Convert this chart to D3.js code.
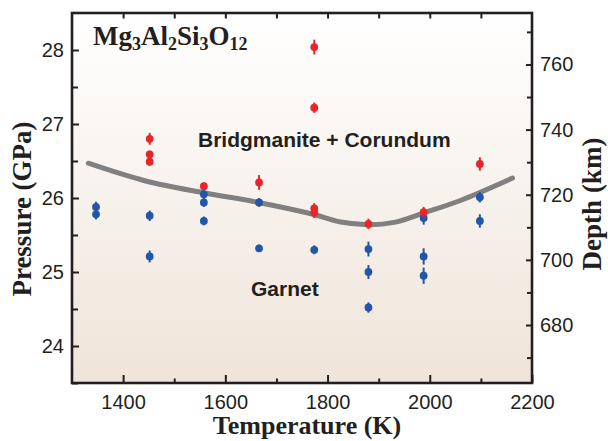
<!DOCTYPE html>
<html>
<head>
<meta charset="utf-8">
<script src="https://cdn.jsdelivr.net/npm/d3@7"></script>
<style>
  html, body { margin: 0; padding: 0; background: #ffffff; }
  svg { display: block; }
</style>
</head>
<body>
<svg id="chart" width="608" height="441"></svg>
<script>
// ---------------- DATA ----------------
// Garnet (blue) observations
const garnetT   = [1347, 1347, 1452, 1452, 1558, 1558, 1558, 1666, 1666, 1774, 1880, 1880, 1880, 1988, 1988, 1988, 2098, 2098];
const garnetP   = [25.88, 25.78, 25.76, 25.21, 26.05, 25.94, 25.69, 25.94, 25.32, 25.30, 25.31, 25.00, 24.52, 25.73, 25.21, 24.95, 26.01, 25.69];
const garnetErr = [0.07, 0.07, 0.07, 0.08, 0.06, 0.06, 0.06, 0.06, 0.05, 0.06, 0.10, 0.095, 0.07, 0.09, 0.11, 0.11, 0.07, 0.09];

// Bridgmanite + Corundum (red) observations
const bmT   = [1452, 1452, 1452, 1558, 1666, 1774, 1774, 1774, 1774, 1880, 1988, 2098];
const bmP   = [26.80, 26.59, 26.49, 26.16, 26.21, 28.04, 27.22, 25.86, 25.80, 25.65, 25.81, 26.46];
const bmErr = [0.08, 0.05, 0.05, 0.05, 0.10, 0.10, 0.07, 0.07, 0.07, 0.07, 0.07, 0.09];

// Phase boundary (grey curve)
const boundaryT = [1332, 1444, 1558, 1665, 1772, 1823, 1880, 1930, 1989, 2061, 2162];
const boundaryP = [26.47, 26.23, 26.07, 25.94, 25.78, 25.68, 25.64, 25.67, 25.80, 25.97, 26.27];

// Axis ticks
const tempTicks      = [1400, 1600, 1800, 2000, 2200];
const tempMinorTicks = [1500, 1700, 1900, 2100];
const tempTopTicks   = [1400, 1500, 1600, 1700, 1800, 1900, 2000, 2100];
const pressTicks      = [24, 25, 26, 27, 28];
const pressMinorTicks = [23.5, 24.5, 25.5, 26.5, 27.5];
const depthTicks      = [680, 700, 720, 740, 760];
const depthMinorTicks = [670, 690, 710, 730, 750, 770];

// Labels
const titleX = "Temperature (K)";
const titleYL = "Pressure (GPa)";
const titleYR = "Depth (km)";
const labelUpper = "Bridgmanite + Corundum";
const labelLower = "Garnet";
const formulaParts = [["Mg", false], ["3", true], ["Al", false], ["2", true], ["Si", false], ["3", true], ["O", false], ["12", true]];

// ---------------- LAYOUT ----------------
const L = 72, R = 532, T = 13, B = 383;
const ink = "#231f20";
const red = "#e8262a";
const blue = "#2356a8";
const sans = "'Liberation Sans', Arial, Helvetica, sans-serif";
const serif = "'Liberation Serif', 'Times New Roman', Times, serif";

const svg = d3.select("#chart");

const x = d3.scaleLinear().domain([1300, 2200]).range([L, R]);
const y = d3.scaleLinear().domain([23.5, 28.5]).range([B, T]);
const yD = d3.scaleLinear().domain([662.2, 775.8]).range([B, T]);

// background gradient
const defs = svg.append("defs");
const grad = defs.append("linearGradient").attr("id", "bg").attr("x1", 0).attr("y1", 0).attr("x2", 0).attr("y2", 1);
grad.append("stop").attr("offset", "0%").attr("stop-color", "#ffffff");
grad.append("stop").attr("offset", "100%").attr("stop-color", "#efe4d9");

svg.append("rect").attr("x", L).attr("y", T).attr("width", R - L).attr("height", B - T).attr("fill", "url(#bg)");

// ---------------- AXES ----------------
function styleAxis(g, showText) {
  g.select(".domain").remove();
  g.selectAll(".tick line").attr("stroke", ink).attr("stroke-width", 2);
  g.selectAll(".tick text").attr("fill", ink).style("font-family", sans).style("font-size", "20px");
  if (!showText) g.selectAll(".tick text").remove();
}

svg.append("g").attr("transform", `translate(0,${B})`)
  .call(d3.axisBottom(x).tickValues(tempTicks).tickSize(-8).tickPadding(12).tickFormat(d3.format("d")))
  .call(g => styleAxis(g, true));
svg.append("g").attr("transform", `translate(0,${B})`)
  .call(d3.axisBottom(x).tickValues(tempMinorTicks).tickSize(-4.5))
  .call(g => styleAxis(g, false));
svg.append("g").attr("transform", `translate(0,${T})`)
  .call(d3.axisTop(x).tickValues(tempTopTicks).tickSize(-5.5))
  .call(g => styleAxis(g, false));

svg.append("g").attr("transform", `translate(${L},0)`)
  .call(d3.axisLeft(y).tickValues(pressTicks).tickSize(-7).tickPadding(8).tickFormat(d3.format("d")))
  .call(g => styleAxis(g, true));
svg.append("g").attr("transform", `translate(${L},0)`)
  .call(d3.axisLeft(y).tickValues(pressMinorTicks).tickSize(-6))
  .call(g => styleAxis(g, false));

svg.append("g").attr("transform", `translate(${R},0)`)
  .call(d3.axisRight(yD).tickValues(depthTicks).tickSize(-6).tickPadding(8).tickFormat(d3.format("d")))
  .call(g => styleAxis(g, true));
svg.append("g").attr("transform", `translate(${R},0)`)
  .call(d3.axisRight(yD).tickValues(depthMinorTicks).tickSize(-5))
  .call(g => styleAxis(g, false));

// frame
svg.append("rect").attr("x", L).attr("y", T).attr("width", R - L).attr("height", B - T)
  .attr("fill", "none").attr("stroke", ink).attr("stroke-width", 2.6);

// ---------------- BOUNDARY ----------------
const boundary = boundaryT.map((t, i) => [t, boundaryP[i]]);
svg.append("path")
  .datum(boundary)
  .attr("d", d3.line().x(d => x(d[0])).y(d => y(d[1])).curve(d3.curveCatmullRom.alpha(0.5)))
  .attr("fill", "none").attr("stroke", "#808080").attr("stroke-width", 5).attr("stroke-linecap", "round");

// ---------------- POINTS ----------------
function drawSeries(ts, ps, es, color) {
  const data = ts.map((t, i) => ({ t, p: ps[i], e: es[i] }));
  const g = svg.append("g");
  g.selectAll("line").data(data).join("line")
    .attr("x1", d => x(d.t)).attr("x2", d => x(d.t))
    .attr("y1", d => y(d.p - d.e)).attr("y2", d => y(d.p + d.e))
    .attr("stroke", color).attr("stroke-width", 2);
  g.selectAll("circle").data(data).join("circle")
    .attr("cx", d => x(d.t)).attr("cy", d => y(d.p)).attr("r", 3.9)
    .attr("fill", color);
}
drawSeries(garnetT, garnetP, garnetErr, blue);
drawSeries(bmT, bmP, bmErr, red);

// ---------------- TEXT ----------------
svg.append("text").attr("x", 198).attr("y", 147)
  .style("font-family", sans).style("font-weight", "bold").style("font-size", "21px")
  .attr("fill", ink).text(labelUpper);
svg.append("text").attr("x", 251).attr("y", 296)
  .style("font-family", sans).style("font-weight", "bold").style("font-size", "21px")
  .attr("fill", ink).text(labelLower);

const formula = svg.append("text").attr("x", 93).attr("y", 45)
  .style("font-family", serif).style("font-weight", "bold").attr("fill", ink);
formulaParts.forEach(([s, sub]) => {
  formula.append("tspan")
    .style("font-size", sub ? "18px" : "27px")
    .attr("dy", sub ? 5 : -5)
    .text(s);
});
formula.select("tspan").attr("dy", 0);

svg.append("text").attr("x", 307).attr("y", 434).attr("text-anchor", "middle")
  .style("font-family", serif).style("font-weight", "bold").style("font-size", "26px")
  .attr("fill", ink).text(titleX);

svg.append("text").attr("transform", "translate(31,209) rotate(-90)").attr("text-anchor", "middle")
  .style("font-family", serif).style("font-weight", "bold").style("font-size", "27px")
  .attr("fill", ink).text(titleYL);

svg.append("text").attr("transform", "translate(601,204) rotate(-90)").attr("text-anchor", "middle")
  .style("font-family", serif).style("font-weight", "bold").style("font-size", "27px")
  .attr("fill", ink).text(titleYR);
</script>
</body>
</html>
